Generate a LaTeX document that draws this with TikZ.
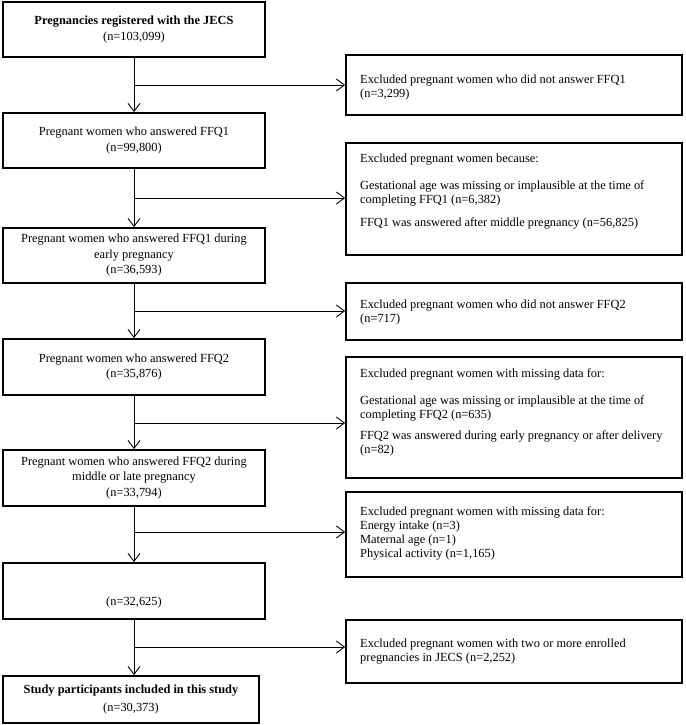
\documentclass[tikz,border=0pt]{standalone}
\usepackage{fontspec}
\setmainfont{Liberation Serif}
\usetikzlibrary{arrows.meta}
\newcommand\myfs{\fontsize{12.4}{15.5}\selectfont}
\newcommand\myfsr{\fontsize{12.4}{14}\selectfont}
\begin{document}
\begin{tikzpicture}[x=1pt,y=1pt,
  lbox/.style={draw, line width=1.7pt, minimum width=262pt, inner sep=0pt, align=center, font=\myfs},
  rbox/.style={draw, line width=1.7pt, minimum width=336pt, inner sep=0pt},
  rtext/.style={anchor=north west, inner sep=0pt, align=left, font=\myfsr},
  conn/.style={line width=0.9pt, -{Straight Barb[length=8pt,width=12pt,line width=0.9pt]}},
  plain/.style={line width=0.9pt}]
\useasboundingbox (0,0) rectangle (685,-725);
\fill[white] (0,0) rectangle (685,-725);
% left boxes
\node[lbox, minimum height=55pt] (b1) at (134,-29.5) {\textbf{Pregnancies registered with the JECS}\\(n=103,099)};
\node[lbox, minimum height=55pt] (b2) at (134,-140.5) {Pregnant women who answered FFQ1\\(n=99,800)};
\node[lbox, minimum height=55pt] (b3) at (134,-255.5) {Pregnant women who answered FFQ1 during\\early pregnancy\\(n=36,593)};
\node[lbox, minimum height=56pt] (b4) at (134,-367) {Pregnant women who answered FFQ2\\(n=35,876)};
\node[lbox, minimum height=56pt] (b5) at (134,-478) {Pregnant women who answered FFQ2 during\\middle or late pregnancy\\(n=33,794)};
\node[lbox, minimum height=56pt] (b6) at (134,-591) {~\\~\\(n=32,625)};
\node[lbox, minimum height=47pt, minimum width=256pt] (b7) at (131,-699.5) {\textbf{Study participants included in this study}\\[2pt](n=30,373)};
% right boxes
\node[rbox, minimum height=60pt] (r1) at (514,-85) {};
\node[rbox, minimum height=112pt] (r2) at (514,-199) {};
\node[rbox, minimum height=57pt] (r3) at (514,-311.5) {};
\node[rbox, minimum height=121pt] (r4) at (514,-417.5) {};
\node[rbox, minimum height=85pt] (r5) at (514,-534.5) {};
\node[rbox, minimum height=63pt] (r6) at (514,-651.5) {};
% right texts
\node[rtext] (t1) at (360,-75) {Excluded pregnant women who did not answer FFQ1\\(n=3,299)};
\node[rtext] (t2) at (360,-154) {Excluded pregnant women because:\\[13pt]Gestational age was missing or implausible at the time of\\completing FFQ1 (n=6,382)\\[9pt]FFQ1 was answered after middle pregnancy (n=56,825)};
\node[rtext] (t3) at (360,-300) {Excluded pregnant women who did not answer FFQ2\\(n=717)};
\node[rtext] (t4) at (360,-369) {Excluded pregnant women with missing data for:\\[13pt]Gestational age was missing or implausible at the time of\\completing FFQ2 (n=635)\\[7pt]FFQ2 was answered during early pregnancy or after delivery\\(n=82)};
\node[rtext] (t5) at (360,-507) {Excluded pregnant women with missing data for:\\Energy intake (n=3)\\Maternal age (n=1)\\Physical activity (n=1,165)};
\node[rtext] (t6) at (360,-639) {Excluded pregnant women with two or more enrolled\\pregnancies in JECS (n=2,252)};
% vertical connectors
\draw[conn] (b1.south) -- (b2.north);
\draw[conn] (b2.south) -- (b3.north);
\draw[conn] (b3.south) -- (b4.north);
\draw[conn] (b4.south) -- (b5.north);
\draw[conn] (b5.south) -- (b6.north);
\draw[conn] (b6.south) -- (b6.south |- b7.north);
% branch points
\coordinate (j1) at (134,-85);
\coordinate (j2) at (134,-198);
\coordinate (j3) at (134,-311);
\coordinate (j4) at (134,-423);
\coordinate (j5) at (134,-532);
\coordinate (j6) at (134,-647);
\draw[conn] (j1) -- (j1 -| r1.west);
\draw[conn] (j2) -- (j2 -| r2.west);
\draw[conn] (j3) -- (j3 -| r3.west);
\draw[conn] (j4) -- (j4 -| r4.west);
\draw[conn] (j5) -- (j5 -| r5.west);
\draw[conn] (j6) -- (j6 -| r6.west);
\end{tikzpicture}
\end{document}
